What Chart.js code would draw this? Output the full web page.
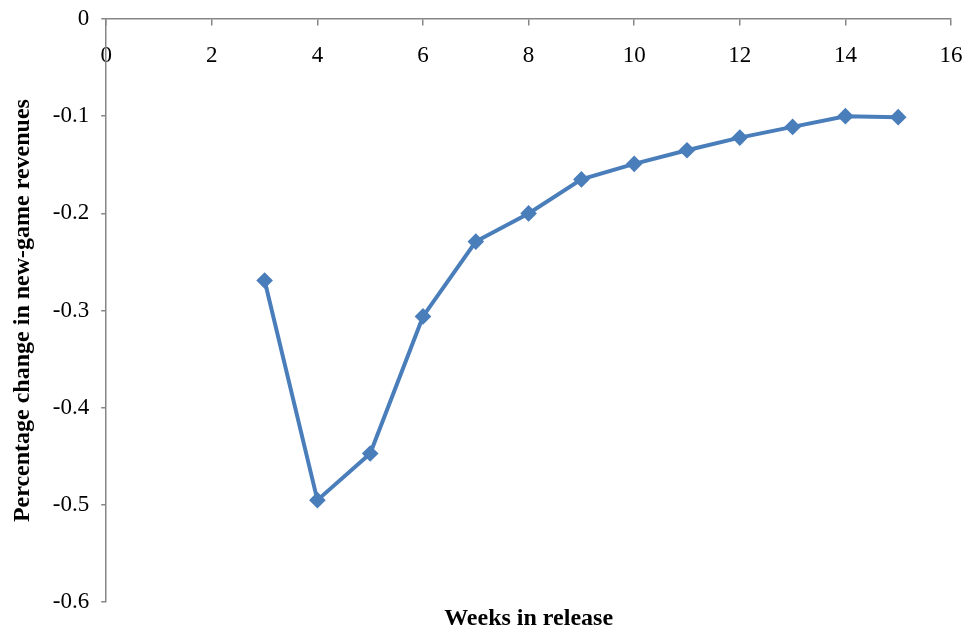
<!DOCTYPE html>
<html>
<head>
<meta charset="utf-8">
<script src="https://cdn.jsdelivr.net/npm/chart.js@4"></script>
<style>
  html, body { margin: 0; padding: 0; background: #ffffff; }
  #wrap { width: 971px; height: 635px; position: relative; }
</style>
</head>
<body>
<div id="wrap"><canvas id="c" width="971" height="635"></canvas></div>
<script>
const weeks = [3, 4, 5, 6, 7, 8, 9, 10, 11, 12, 13, 14, 15];
const pctChange = [-0.269, -0.495, -0.447, -0.306, -0.229, -0.200, -0.165, -0.149, -0.135, -0.122, -0.111, -0.100, -0.101];
const xTitle = 'Weeks in release';
const yTitle = 'Percentage change in new-game revenues';

const FONT = "'Liberation Serif', 'Times New Roman', serif";
const AXIS = '#868686';

new Chart(document.getElementById('c'), {
  type: 'line',
  data: {
    datasets: [{
      data: weeks.map((w, i) => ({ x: w, y: pctChange[i] })),
      borderColor: '#4a7ebb',
      backgroundColor: '#4a7ebb',
      borderWidth: 4,
      pointStyle: 'rectRot',
      pointRadius: 5.5,
      pointHoverRadius: 5.5,
      tension: 0,
      fill: false
    }]
  },
  options: {
    responsive: false,
    animation: false,
    layout: { padding: { top: 19, right: 20, bottom: 2, left: 8 } },
    plugins: { legend: { display: false }, tooltip: { enabled: false } },
    scales: {
      x: {
        type: 'linear',
        position: { y: 0 },
        min: 0, max: 16,
        ticks: { stepSize: 2, color: '#000', padding: 2, font: { family: FONT, size: 23, lineHeight: 2.55 } },
        grid: { drawOnChartArea: false, drawTicks: true, tickLength: 6, color: AXIS, lineWidth: 1.5 },
        border: { display: true, color: AXIS, width: 1.5 }
      },
      x2: {
        type: 'linear',
        position: 'bottom',
        min: 0, max: 16,
        ticks: { display: false },
        grid: { display: false, drawTicks: false },
        border: { display: false },
        title: { display: true, text: xTitle, color: '#000', padding: { top: 2, bottom: 0 }, font: { family: FONT, size: 24, weight: 'bold' } }
      },
      y: {
        type: 'linear',
        min: -0.6, max: 0,
        ticks: { stepSize: 0.1, color: '#000', padding: 12, font: { family: FONT, size: 23, lineHeight: 0.5 },
          callback: v => { const r = Math.round(v * 10) / 10; return r === 0 ? '0' : r.toFixed(1); } },
        grid: { drawOnChartArea: false, drawTicks: true, tickLength: 5, color: AXIS, lineWidth: 1.5 },
        border: { display: true, color: AXIS, width: 1.5 },
        title: { display: true, text: yTitle, color: '#000', padding: { top: 0, bottom: 4 }, font: { family: FONT, size: 24, weight: 'bold' } }
      }
    }
  }
});
</script>
</body>
</html>
